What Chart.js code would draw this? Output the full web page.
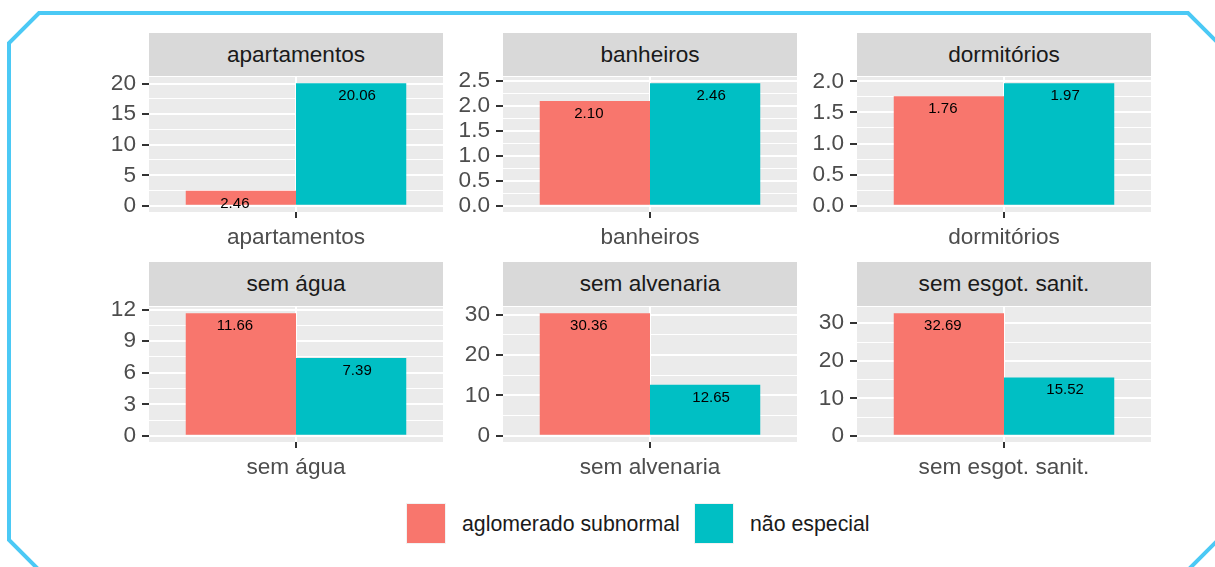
<!DOCTYPE html>
<html>
<head>
<meta charset="utf-8">
<script src="https://cdn.jsdelivr.net/npm/chart.js@4.4.1/dist/chart.umd.min.js"></script>
<style>
  body { margin: 0; background: #fff; width: 1215px; height: 567px; overflow: hidden; position: relative; font-family: "Liberation Sans", Arial, sans-serif; }
  #frame { position: absolute; left: 0; top: 0; }
  canvas { position: absolute; }
  .strip { position: absolute; background: #D9D9D9; color: #1A1A1A; font-size: 22.6px; text-align: center; }
  .key { position: absolute; width: 40px; height: 41px; box-sizing: border-box; border: 1px solid #F2F2F2; }
  .key-label { position: absolute; font-size: 21.3px; color: #1A1A1A; line-height: 24px; }
</style>
</head>
<body>
<svg id="frame" width="1215" height="567">
  <polygon points="39,13 1188,13 1218,43 1218,540 1188,570 39,570 9,540 9,43" fill="none" stroke="#4BC9F5" stroke-width="4"></polygon>
</svg>
<div id="main-content"></div>

<script>
// data
const facets = ["apartamentos", "banheiros", "dormitórios", "sem água", "sem alvenaria", "sem esgot. sanit."];
const seriesNames = ["aglomerado subnormal", "não especial"];
const aglomerado = [2.46, 2.1, 1.76, 11.66, 30.36, 32.69];
const naoEspecial = [20.06, 2.46, 1.97, 7.39, 12.65, 15.52];
const tickValues = [
  [0, 5, 10, 15, 20],
  [0, 0.5, 1, 1.5, 2, 2.5],
  [0, 0.5, 1, 1.5, 2],
  [0, 3, 6, 9, 12],
  [0, 10, 20, 30],
  [0, 10, 20, 30],
];
const tickLabels = [
  ["0", "5", "10", "15", "20"],
  ["0.0", "0.5", "1.0", "1.5", "2.0", "2.5"],
  ["0.0", "0.5", "1.0", "1.5", "2.0"],
  ["0", "3", "6", "9", "12"],
  ["0", "10", "20", "30"],
  ["0", "10", "20", "30"],
];
const colors = ["#F8766D", "#00BFC4"];

// layout of the facet grid
const colLeft = [149, 503, 857];
const panelW = 294;
const rows = [
  { stripTop: 33, plotTop: 77, plotBottom: 212 },
  { stripTop: 262, plotTop: 307, plotBottom: 442 },
];
const yAxisW = 60;
const xAxisH = 40;

Chart.defaults.font.family = '"Liberation Sans", Arial, sans-serif';
Chart.defaults.animation = false;

// grey panel background
const panelBg = {
  id: "panelBg",
  beforeDraw(chart) {
    const a = chart.chartArea;
    const ctx = chart.ctx;
    ctx.save();
    ctx.fillStyle = "#EBEBEB";
    ctx.fillRect(a.left, a.top, a.right - a.left, a.bottom - a.top);
    ctx.restore();
  },
};

// value labels inside the top of the bars
const barLabels = {
  id: "barLabels",
  afterDatasetsDraw(chart) {
    const ctx = chart.ctx;
    ctx.save();
    ctx.font = '15px "Liberation Sans", Arial, sans-serif';
    ctx.fillStyle = "#000";
    ctx.textAlign = "center";
    ctx.textBaseline = "middle";
    chart.data.datasets.forEach((ds, i) => {
      const bar = chart.getDatasetMeta(i).data[0];
      const dx = i === 0 ? -6 : 6;
      ctx.fillText(ds.data[0].toFixed(2), bar.x + dx, bar.y + 12.7);
    });
    ctx.restore();
  },
};

let main = document.getElementById("main-content");

//- LEGEND -
let legend = [
  { key: 406, text: 462 },
  { key: 694, text: 750 },
];
legend.forEach((l, i) => {
  main.insertAdjacentHTML(
    "beforeend",
    `<div class="key" style="left:${l.key}px;top:503px;background:${colors[i]}"></div>
    <div class="key-label" style="left:${l.text}px;top:512px">${seriesNames[i]}</div>`
  );
});

for (let p = 0; p < facets.length; p++) {
  let row = rows[Math.floor(p / 3)];
  let left = colLeft[p % 3];

  //- PANEL CHART -
  let canvas = document.createElement("canvas");
  canvas.width = yAxisW + panelW;
  canvas.height = row.plotBottom - row.stripTop + xAxisH;
  canvas.style.left = left - yAxisW + "px";
  canvas.style.top = row.stripTop + "px";
  main.appendChild(canvas);

  //- STRIP -
  let strip = document.createElement("div");
  strip.className = "strip";
  strip.style.left = left + "px";
  strip.style.top = row.stripTop + "px";
  strip.style.width = panelW + "px";
  strip.style.height = row.plotTop - row.stripTop - 1 + "px";
  strip.style.lineHeight = row.plotTop - row.stripTop - 1 + "px";
  strip.textContent = facets[p];
  main.appendChild(strip);

  let maxVal = Math.max(aglomerado[p], naoEspecial[p]);
  let majors = tickValues[p];
  let step = majors[1] - majors[0];
  let minors = majors.map((v) => v + step / 2).filter((v) => v < maxVal * 1.05);

  new Chart(canvas.getContext("2d"), {
    type: "bar",
    data: {
      labels: [facets[p]],
      datasets: [
        { label: seriesNames[0], data: [aglomerado[p]], backgroundColor: colors[0], borderWidth: 0 },
        { label: seriesNames[1], data: [naoEspecial[p]], backgroundColor: colors[1], borderWidth: 0 },
      ],
    },
    options: {
      responsive: false,
      maintainAspectRatio: false,
      categoryPercentage: 0.75,
      barPercentage: 1,
      layout: { padding: { top: row.plotTop - row.stripTop, left: 0, right: 0, bottom: 0 } },
      plugins: { legend: { display: false }, tooltip: { enabled: false } },
      scales: {
        x: {
          border: { display: false },
          grid: { offset: false, color: "#FFFFFF", lineWidth: 2, tickColor: "#333333", tickWidth: 2, tickLength: 6 },
          ticks: { color: "#4D4D4D", font: { size: 22.6 }, padding: 6, maxRotation: 0 },
          afterFit(scale) {
            scale.height = xAxisH;
            scale.paddingLeft = 0;
            scale.paddingRight = 0;
          },
        },
        y: {
          min: -0.05 * maxVal,
          max: 1.05 * maxVal,
          bounds: "data",
          border: { display: false },
          grid: {
            color: "#FFFFFF",
            lineWidth: (c) => (c.tick && c.tick.minor ? 1 : 2),
            tickColor: (c) => (c.tick && c.tick.minor ? "rgba(0,0,0,0)" : "#333333"),
            tickWidth: 2,
            tickLength: 7,
          },
          ticks: {
            color: "#4D4D4D",
            font: { size: 22.6 },
            padding: 6,
            autoSkip: false,
            callback: function (value, index, ticks) {
              let t = ticks[index];
              return t.minor ? "" : t.label;
            },
          },
          afterBuildTicks(scale) {
            let list = majors.map((v, i) => ({ value: v, label: tickLabels[p][i] }));
            minors.forEach((v) => list.push({ value: v, label: "", minor: true }));
            list.sort((a, b) => a.value - b.value);
            scale.ticks = list;
          },
          afterFit(scale) {
            scale.width = yAxisW;
            scale.paddingTop = 0;
            scale.paddingBottom = 0;
          },
        },
      },
    },
    plugins: [panelBg, barLabels],
  });
}
</script>
</body>
</html>
